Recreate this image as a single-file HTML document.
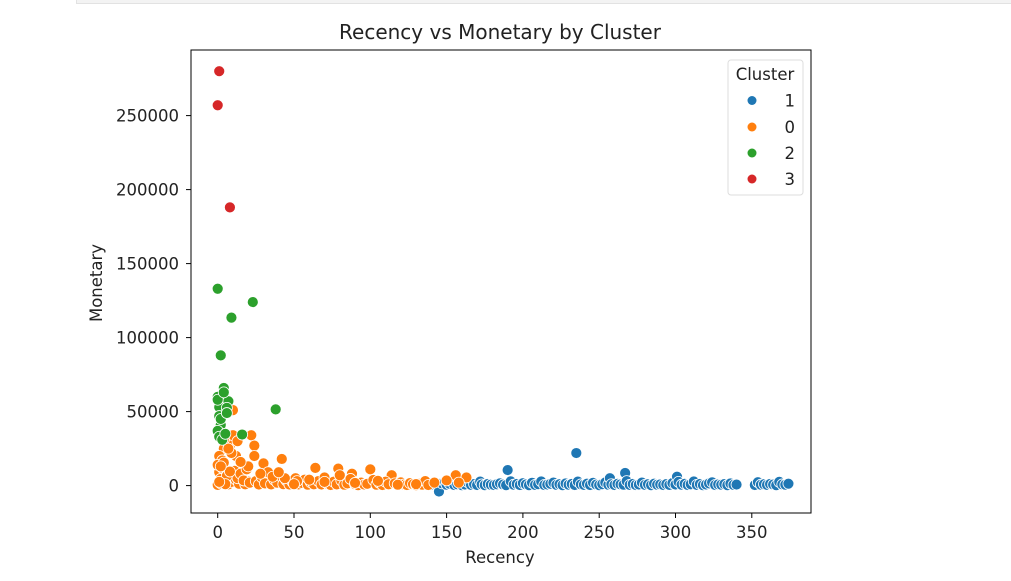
<!DOCTYPE html>
<html><head><meta charset="utf-8"><style>
body{margin:0;background:#fff;font-family:"DejaVu Sans","Liberation Sans",sans-serif;}
svg text{font-family:"DejaVu Sans","Liberation Sans",sans-serif;fill:#222;}
</style></head><body>
<div style="position:absolute;left:76px;top:0;width:935px;height:3px;background:#f3f3f3;border:1px solid #e2e2e2;border-top:none;"></div>
<svg id="chart" width="1011" height="581" style="position:absolute;left:0;top:0">
<g id="marks"></g>
<rect x="191" y="50" width="620" height="463" fill="none" stroke="#000" stroke-width="1"/>
<g id="axes"></g>
<text x="500" y="39" font-size="20" text-anchor="middle">Recency vs Monetary by Cluster</text>
<text x="500" y="563" font-size="16.5" text-anchor="middle">Recency</text>
<text x="0" y="0" font-size="16.5" text-anchor="middle" transform="translate(102,283) rotate(-90)">Monetary</text>
<g>
<rect x="728" y="60" width="75" height="135" rx="3" fill="#fff" stroke="#ddd"/>
<text x="765" y="80" font-size="16.5" text-anchor="middle">Cluster</text>
<g><circle cx="752" cy="100.5" r="4.5" fill="#1f77b4"/><text x="795" y="106.5" font-size="16.5" text-anchor="end">1</text></g>
<g><circle cx="752" cy="127" r="4.5" fill="#ff7f0e"/><text x="795" y="133" font-size="16.5" text-anchor="end">0</text></g>
<g><circle cx="752" cy="153" r="4.5" fill="#2ca02c"/><text x="795" y="159" font-size="16.5" text-anchor="end">2</text></g>
<g><circle cx="752" cy="179" r="4.5" fill="#d62728"/><text x="795" y="185" font-size="16.5" text-anchor="end">3</text></g>
</g>
</svg>
<script>
const xTicks=[0,50,100,150,200,250,300,350];
const yTicks=[0,50000,100000,150000,200000,250000];
const blueX=[140,143,145,147,149,150,152,154,155,157,159,160,162,164,166,168,170,172,173,175,177,179,181,183,185,187,189,190,192,194,196,198,200,202,204,206,208,210,212,214,216,218,220,222,224,226,228,230,232,234,235,236,238,240,242,244,246,248,250,252,254,256,257,258,260,262,264,266,267,268,270,272,274,276,278,280,282,284,286,288,290,292,294,296,298,300,301,302,304,306,308,310,312,314,316,318,320,322,324,326,328,330,332,334,336,338,340,352,354,356,358,360,362,364,366,368,370,372,374];
const blueY=[500,800,-4000,1500,2500,600,1200,3000,400,900,1800,300,700,2200,500,1000,400,2700,800,300,1100,600,400,900,1500,700,300,10500,2900,600,1100,400,1600,800,300,1900,500,1000,2800,400,700,1200,2000,500,900,300,1400,600,1100,400,22000,2700,800,500,1300,400,1900,700,300,1000,2100,600,5000,900,400,1200,800,600,8500,3000,500,1100,400,700,2000,500,900,300,1300,600,800,400,1000,500,1700,700,6000,2500,600,1200,400,900,2800,500,1100,300,700,1500,2200,400,800,600,1000,300,1400,500,700,400,2300,600,900,500,1100,700,300,2500,800,600,1300];
const orangeX=[10,10,22,24,4,8,1,3,42,24,30,64,100,79,88,114,156,163,0,2,5,7,9,12,14,16,18,20,1,3,6,11,13,15,17,19,21,0,2,4,6,8,25,27,29,31,33,35,37,39,41,43,45,47,49,51,53,55,57,59,61,63,66,68,70,72,74,76,78,81,83,85,87,90,92,94,96,98,102,104,106,108,110,112,116,118,120,122,124,126,128,130,132,134,136,138,5,12,20,28,36,44,52,60,70,80,90,105,118,130,142,150,158,1,4,9,15,2,7,13,40,50];
const orangeY=[51000,34000,34000,27000,25000,27000,20000,17000,18000,20000,15000,12000,11000,11500,8000,7000,7000,5500,500,1500,3000,800,2500,4000,1200,6000,900,2800,9000,12000,7000,10000,5000,8000,3500,11000,2000,14000,4500,15500,6500,9500,3000,700,5500,1500,9000,800,4000,2000,6500,1000,3500,700,2500,5000,800,1800,4000,600,2200,900,3000,700,5500,1200,400,2600,800,3500,600,1500,4500,900,300,2000,700,1200,3800,600,1800,400,2600,900,1500,300,2200,700,400,1700,900,300,1200,600,3000,400,1000,20000,13000,8000,6000,5000,3000,4000,2500,7000,1800,3200,600,1000,2000,3500,2000,2500,31000,22000,16000,13000,25000,30000,9000,1000,800];
const greenX=[0,23,9,2,4,0,7,1,6,38,2,16,0,1,3,5,0,1,2,4,6];
const greenY=[133000,124000,113500,88000,66000,60000,57000,53000,52500,51500,41000,34500,37000,33000,31000,35000,58000,47000,45000,63000,49000];
const redX=[1,0,8];
const redY=[280000,257000,188000];
const X0=217.7, PXX=76.3/50, Y0=485.6, PXY=74/50000;
const sx=v=>X0+v*PXX, sy=v=>Y0-v*PXY;
const NS="http://www.w3.org/2000/svg";
const axes=document.getElementById('axes'), marks=document.getElementById('marks');
xTicks.forEach(t=>{
 const l=document.createElementNS(NS,'line');
 
 
 l.setAttribute('x1',sx(t));l.setAttribute('x2',sx(t));l.setAttribute('y1',513);l.setAttribute('y2',518);l.setAttribute('stroke','#000');axes.appendChild(l);
 const tx=document.createElementNS(NS,'text');
 
 
 tx.setAttribute('x',sx(t));tx.setAttribute('y',538);tx.setAttribute('font-size','16.5');tx.setAttribute('text-anchor','middle');tx.textContent=t;axes.appendChild(tx);
});
yTicks.forEach(t=>{
 const l=document.createElementNS(NS,'line');
 
 
 l.setAttribute('x1',186);l.setAttribute('x2',191);l.setAttribute('y1',sy(t));l.setAttribute('y2',sy(t));l.setAttribute('stroke','#000');axes.appendChild(l);
 const tx=document.createElementNS(NS,'text');
 
 
 tx.setAttribute('x',179);tx.setAttribute('y',sy(t)+6);tx.setAttribute('font-size','16.5');tx.setAttribute('text-anchor','end');tx.textContent=t;axes.appendChild(tx);
});
function draw(xs,ys,color,name){
 xs.forEach((x,i)=>{
  const c=document.createElementNS(NS,'circle');
  
  
  c.setAttribute('cx',sx(x));c.setAttribute('cy',sy(ys[i]));c.setAttribute('r',5.5);
  c.setAttribute('fill',color);c.setAttribute('stroke','#fff');c.setAttribute('stroke-width','0.8');
  marks.appendChild(c);
 });
}
draw(blueX,blueY,'#1f77b4','point-cluster-1');
draw(orangeX,orangeY,'#ff7f0e','point-cluster-0');
draw(greenX,greenY,'#2ca02c','point-cluster-2');
draw(redX,redY,'#d62728','point-cluster-3');
</script>
</body></html>
